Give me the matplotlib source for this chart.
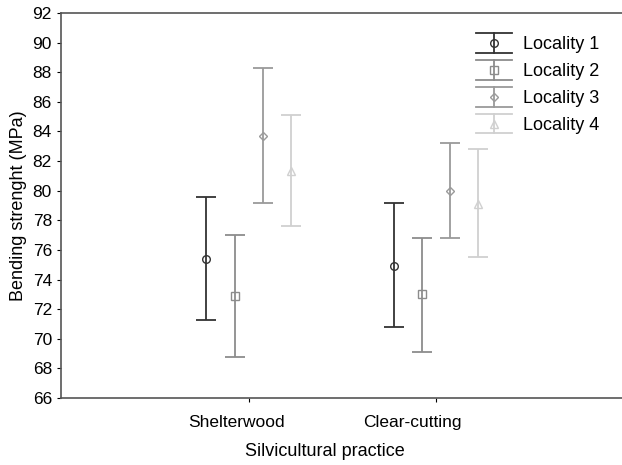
import numpy as np
import matplotlib
matplotlib.use("Agg")
import matplotlib.pyplot as plt
import matplotlib.transforms as mtransforms
from matplotlib.lines import Line2D
from matplotlib.legend_handler import HandlerBase

plt.rcParams['font.family'] = ['Liberation Sans', 'DejaVu Sans']

practices = ["Shelterwood", "Clear-cutting"]
localities = ["Locality 1", "Locality 2", "Locality 3", "Locality 4"]

# mean and confidence limits per locality, one value per practice
means = [[75.4, 74.9], [72.9, 73.0], [83.7, 80.0], [81.3, 79.1]]
upper = [[79.6, 79.2], [77.0, 76.8], [88.3, 83.2], [85.1, 82.8]]
lower = [[71.3, 70.8], [68.8, 69.1], [79.2, 76.8], [77.6, 75.5]]

colors = ["#333333", "#8c8c8c", "#9a9a9a", "#d0d0d0"]
markers = ["o", "s", "D", "^"]
msizes = [5.5, 5.5, 4.5, 5.5]
offsets = [-0.225, -0.075, 0.075, 0.225]


class CapHandler(HandlerBase):
    # vertical bar with full-width caps and the marker in the middle
    def create_artists(self, legend, orig, xd, yd, w, h, fontsize, trans):
        c = orig.get_color()
        top, bot = yd + h + 2.5, yd - 2.5
        arts = [
            Line2D([xd, xd + w], [top, top], color=c, lw=1.3),
            Line2D([xd, xd + w], [bot, bot], color=c, lw=1.3),
            Line2D([xd + w / 2, xd + w / 2], [bot, top], color=c, lw=1.3),
            Line2D([xd + w / 2], [yd + h / 2], marker=orig.get_marker(),
                   ms=orig.get_markersize(), mfc="none", mec=c, ls="none"),
        ]
        for a in arts:
            a.set_transform(trans)
        return arts


fig = plt.figure(figsize=(6.22, 4.65), dpi=100)
ax = fig.add_axes([0.098, 0.144, 0.905, 0.828])

x = np.arange(1, len(practices) + 1)
handles = []
for i in range(len(localities)):
    m = np.array(means[i])
    yerr = [m - np.array(lower[i]), np.array(upper[i]) - m]
    ax.errorbar(x + offsets[i], m, yerr=yerr, fmt=markers[i], color=colors[i],
                mfc="none", mec=colors[i], ms=msizes[i], capsize=7,
                elinewidth=1.3, capthick=1.3)
    handles.append(Line2D([], [], color=colors[i], marker=markers[i], ms=msizes[i]))

ax.set_xlim(0, 3)
ax.set_ylim(66, 92)
ax.set_yticks(np.arange(66, 93, 2))
ax.set_xticks(x)
ax.set_xticklabels(practices)
ax.tick_params(axis="x", length=3, pad=9, labelsize=12.5)
ax.tick_params(axis="y", length=3, labelsize=12.5)
# category labels sit a little left of their tick marks
for lab, dx in zip(ax.get_xticklabels(), [-12, -24]):
    lab.set_transform(lab.get_transform() +
                      mtransforms.ScaledTranslation(dx / 100, 0, fig.dpi_scale_trans))

ax.spines["right"].set_visible(False)
for s in ["left", "bottom", "top"]:
    ax.spines[s].set_color("#555555")
    ax.spines[s].set_linewidth(1.2)

ax.set_xlabel("Silvicultural practice", fontsize=13)
ax.xaxis.set_label_coords(0.468, -0.118)
ax.set_ylabel("Bending strenght (MPa)", fontsize=13)

ax.legend(handles, localities, handler_map={Line2D: CapHandler()},
          loc="upper right", bbox_to_anchor=(0.985, 0.982), frameon=False,
          fontsize=13, handlelength=2.0, handletextpad=0.6, labelspacing=0.55)

fig.savefig("out.png", dpi=100)
